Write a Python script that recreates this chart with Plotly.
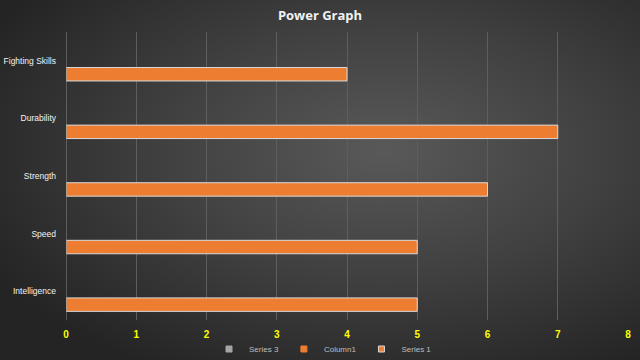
import base64
import plotly.graph_objects as go

categories = ["Intelligence", "Speed", "Strength", "Durability", "Fighting Skills"]
series1 = [5, 5, 6, 7, 4]
column1 = [0, 0, 0, 0, 0]
series3 = [0, 0, 0, 0, 0]
x_ticks = [0, 1, 2, 3, 4, 5, 6, 7, 8]

W, H = 640, 360
L, R, T, B = 66, 12, 32, 40
pw, ph = W - L - R, H - T - B

svg = (
    '<svg xmlns="http://www.w3.org/2000/svg" width="640" height="360" preserveAspectRatio="none">'
    '<defs><radialGradient id="g" cx="0.6" cy="0.42" r="0.7">'
    '<stop offset="0" stop-color="#595959"/>'
    '<stop offset="0.5" stop-color="#404040"/>'
    '<stop offset="1" stop-color="#242424"/>'
    '</radialGradient></defs>'
    '<rect width="640" height="360" fill="url(#g)"/></svg>'
)
bg = "data:image/svg+xml;base64," + base64.b64encode(svg.encode()).decode()

fig = go.Figure()
fig.add_trace(go.Bar(y=categories, x=series1, orientation="h", name="Series 1", showlegend=False,
                     marker=dict(color="#ED7D31", line=dict(color="#d9d9d9", width=1))))
fig.add_trace(go.Bar(y=categories, x=column1, orientation="h", name="Column1", showlegend=False,
                     marker=dict(color="#ED7D31", line=dict(width=0))))
fig.add_trace(go.Bar(y=categories, x=series3, orientation="h", name="Series 3", showlegend=False,
                     marker=dict(color="#A5A5A5", line=dict(width=0))))

# legend entries
for name, col, lc in [("Series 1", "#ED7D31", "#d9d9d9"), ("Column1", "#ED7D31", "#ED7D31"),
                      ("Series 3", "#A5A5A5", "#A5A5A5")]:
    fig.add_trace(go.Scatter(x=[None], y=[None], mode="markers", name=name,
                             marker=dict(symbol="square", size=6, color=col, line=dict(color=lc, width=1))))

fig.update_layout(
    width=W, height=H,
    paper_bgcolor="#333333", plot_bgcolor="rgba(0,0,0,0)",
    images=[dict(source=bg, xref="paper", yref="paper", x=-L / pw, y=1 + T / ph, sizex=W / pw, sizey=H / ph,
                 xanchor="left", yanchor="top", layer="below", sizing="stretch")],
    margin=dict(l=L, r=R, t=T, b=B, autoexpand=False),
    barmode="group", bargap=0.3, bargroupgap=0,
    title=dict(text="<b>Power Graph</b>", x=0.5, xanchor="center", y=1 - 15 / H, yanchor="middle",
               font=dict(family="Open Sans", size=13, color="#f2f2f2")),
    xaxis=dict(range=[0, 8], tickvals=x_ticks, showgrid=True, gridcolor="#5e5e5e", gridwidth=1,
               zeroline=False, showline=False, automargin=False,
               tickfont=dict(family="Liberation Sans", size=10, color="#FFFF00", weight="bold"),
               ticks="", ticklabelstandoff=7),
    yaxis=dict(showgrid=False, zeroline=False, showline=False, automargin=False,
               tickfont=dict(family="Liberation Sans", size=8.5, color="#f2f2f2"),
               ticks="", ticklabelstandoff=9),
    legend=dict(orientation="h", x=0.5 - 24 / pw, xanchor="center", y=-(349 - (H - B)) / ph, yanchor="middle",
                traceorder="reversed", font=dict(family="Liberation Sans", size=8, color="#bfbfbf"),
                itemwidth=30, bgcolor="rgba(0,0,0,0)", tracegroupgap=0),
    showlegend=True,
)
fig.add_shape(type="line", xref="x", yref="paper", x0=0, x1=0, y0=0, y1=1,
              line=dict(color="#8a8a8a", width=1))
fig.write_html("out.html", config={"displayModeBar": False},
               post_script="document.body.style.margin='0';")
